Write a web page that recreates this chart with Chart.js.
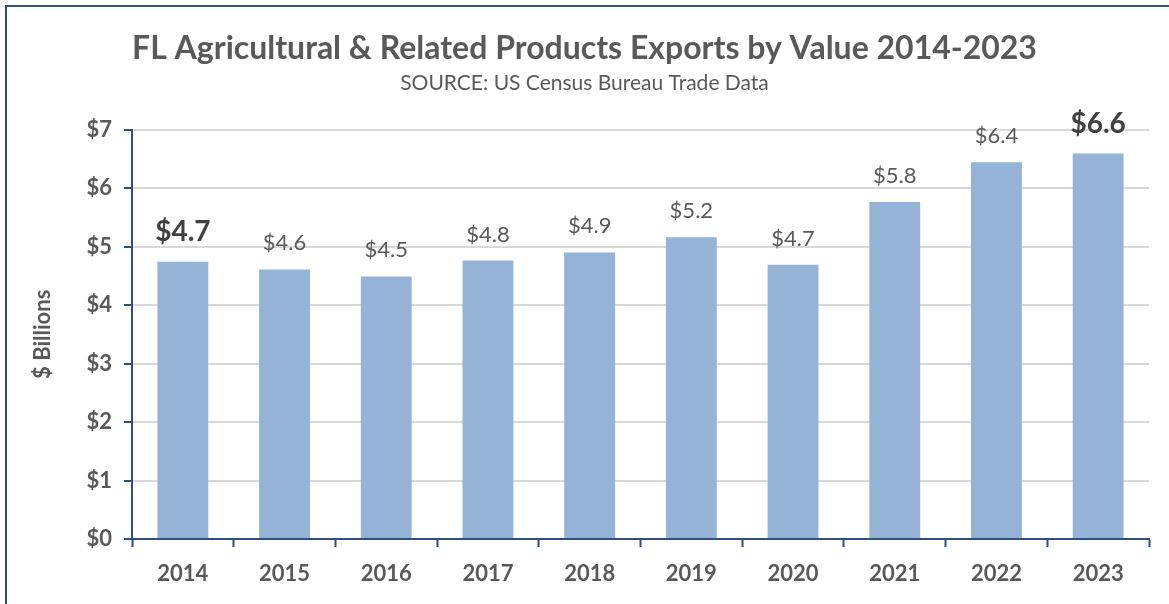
<!DOCTYPE html>
<html>
<head>
<meta charset="utf-8">
<script src="https://cdn.jsdelivr.net/npm/chart.js@4"></script>
<style>
  html, body { margin: 0; padding: 0; background: #fff; overflow: hidden; }
  #frame {
    position: absolute; left: 5px; top: 5px; width: 1300px; height: 700px;
    border-top: 2px solid #2f4f7d; border-left: 2px solid #2f4f7d;
  }
  #wrap { position: absolute; left: 0; top: 0; width: 1169px; height: 604px; }
</style>
</head>
<body>
<div id="frame"></div>
<div id="wrap"><canvas id="chart"></canvas></div>
<script>
// 연도별 수출액 (단위: 10억 달러)
const years = ["2014", "2015", "2016", "2017", "2018", "2019", "2020", "2021", "2022", "2023"];
const exportValues = [4.74, 4.61, 4.49, 4.76, 4.90, 5.16, 4.69, 5.76, 6.44, 6.59];
const boldYears = ["2014", "2023"];
const yTicks = [0, 1, 2, 3, 4, 5, 6, 7];

const FONT = "Lato, 'Open Sans', sans-serif";
const GRAY = "#595959";
const NAVY = "#2f4f7d";

// 막대 위 값 레이블
const valueLabels = {
    id: "valueLabels",
    afterDatasetsDraw(chart) {
        const ctx = chart.ctx;
        const meta = chart.getDatasetMeta(0);
        ctx.save();
        ctx.textAlign = "center";
        ctx.textBaseline = "alphabetic";
        meta.data.forEach((bar, i) => {
            const bold = boldYears.includes(years[i]);
            ctx.font = bold ? "bold 28px " + FONT : "22px " + FONT;
            ctx.fillStyle = bold ? "#404040" : "#595959";
            ctx.fillText("$" + exportValues[i].toFixed(1), bar.x, bar.y - (bold ? 21 : 19));
        });
        ctx.restore();
    }
};

const chart = new Chart(document.getElementById("chart").getContext("2d"), {
    type: "bar",
    data: {
        labels: years,
        datasets: [{
            data: exportValues,
            backgroundColor: "#95b3d7",
            barPercentage: 0.5,
            categoryPercentage: 1.0
        }]
    },
    options: {
        responsive: true,
        maintainAspectRatio: false,
        animation: false,
        layout: { padding: { left: 20, right: 20, top: 29, bottom: 14 } },
        plugins: {
            legend: { display: false },
            tooltip: { enabled: false },
            title: {
                display: true,
                text: "FL Agricultural & Related Products Exports by Value 2014-2023",
                color: GRAY,
                font: { family: FONT, size: 32, weight: "bold", lineHeight: 1.2 },
                padding: { top: 0, bottom: 3 }
            },
            subtitle: {
                display: true,
                text: "SOURCE: US Census Bureau Trade Data",
                color: GRAY,
                font: { family: FONT, size: 21, lineHeight: 1.2 },
                padding: { top: 0, bottom: 34 }
            }
        },
        scales: {
            x: {
                afterFit(axis) { axis.height = 51; },
                grid: {
                    offset: true,
                    drawOnChartArea: false,
                    tickLength: 8,
                    tickColor: NAVY,
                    tickWidth: 2
                },
                border: { color: NAVY, width: 2 },
                ticks: {
                    color: GRAY,
                    font: { family: FONT, size: 22, weight: "bold" },
                    padding: 14
                }
            },
            y: {
                min: 0,
                max: 7,
                afterBuildTicks(axis) {
                    axis.ticks = yTicks.map(v => ({ value: v }));
                },
                afterFit(axis) { axis.width = 112; },
                grid: {
                    color: "#d9d9d9",
                    lineWidth: 2,
                    tickLength: 8,
                    tickColor: NAVY,
                    tickWidth: 2
                },
                border: { color: NAVY, width: 2 },
                ticks: {
                    color: GRAY,
                    font: { family: FONT, size: 22, weight: "bold" },
                    padding: 12,
                    callback: v => "$" + v
                },
                title: {
                    display: true,
                    text: "$ Billions",
                    color: GRAY,
                    font: { family: FONT, size: 22, weight: "bold" },
                    padding: { top: 10, bottom: 0 }
                }
            }
        }
    },
    plugins: [valueLabels]
});
</script>
</body>
</html>
